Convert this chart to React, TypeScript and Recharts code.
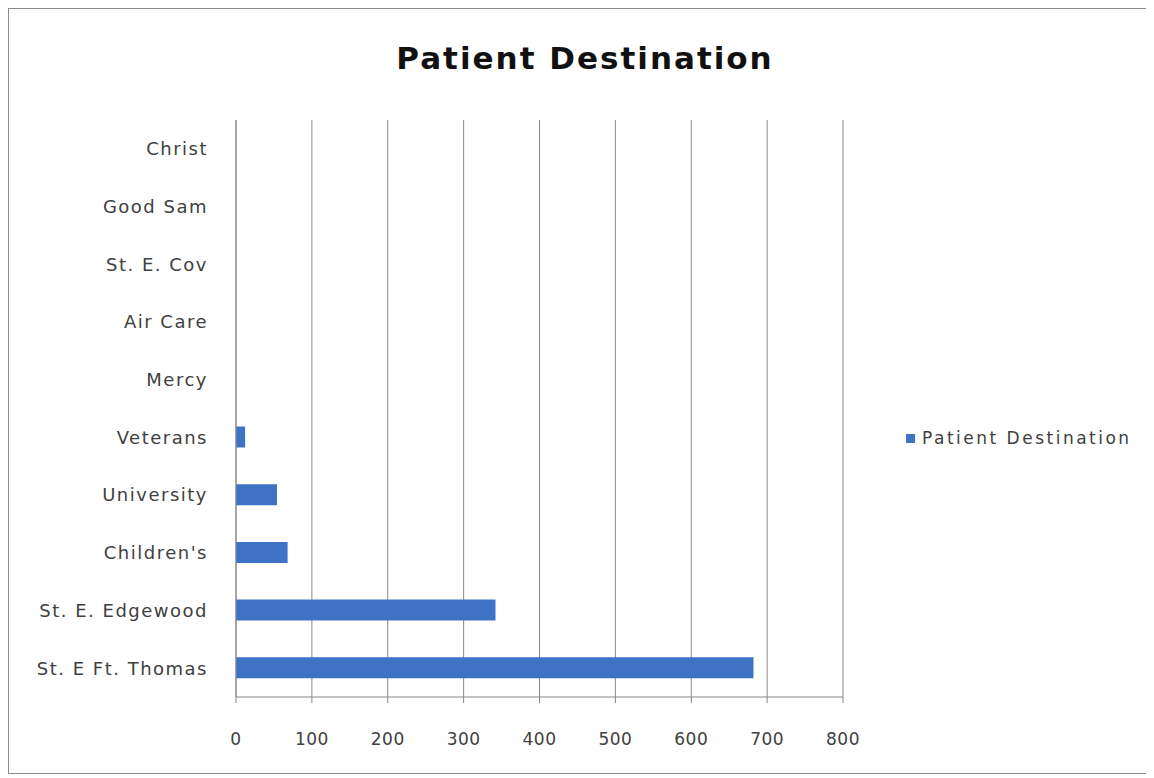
import { Bar, BarChart, CartesianGrid, Legend, XAxis, YAxis } from 'recharts'

const destinations = [
  'Christ',
  'Good Sam',
  'St. E. Cov',
  'Air Care',
  'Mercy',
  'Veterans',
  'University',
  "Children's",
  'St. E. Edgewood',
  'St. E Ft. Thomas',
]
const patientCounts = [0, 0, 0, 0, 0, 12, 54, 68, 342, 682]
const xTicks = [0, 100, 200, 300, 400, 500, 600, 700, 800]

const rows = destinations.map((name, i) => ({ name, value: patientCounts[i] }))

const FONT = '"DejaVu Sans", "Open Sans", sans-serif'
const BLUE = '#3d72c4'

function LegendItem() {
  return (
    <div
      style={{
        display: 'flex',
        alignItems: 'center',
        gap: 7,
        fontFamily: FONT,
        fontSize: 17,
        letterSpacing: 2.5,
        color: '#404040',
        whiteSpace: 'nowrap',
      }}
    >
      <span style={{ width: 9, height: 9, background: BLUE, display: 'inline-block' }} />
      <span>Patient Destination</span>
    </div>
  )
}

export default function App() {
  return (
    <div
      style={{
        position: 'relative',
        width: 1140,
        height: 764,
        border: '1px solid #8c8c8c',
        background: '#fff',
      }}
    >
      <div
        style={{
          position: 'absolute',
          left: 0,
          right: 0,
          top: 31,
          textAlign: 'center',
          fontFamily: FONT,
          fontWeight: 700,
          fontSize: 31,
          letterSpacing: 2,
          color: '#111',
          paddingLeft: 12,
        }}
      >
        Patient Destination
      </div>
      <BarChart
        width={1140}
        height={764}
        data={rows}
        layout="vertical"
        margin={{ top: 111, right: 306, bottom: 0, left: 0 }}
      >
        <CartesianGrid horizontal={false} stroke="#8a8a8a" strokeWidth={1} />
        <XAxis
          type="number"
          domain={[0, 800]}
          ticks={xTicks}
          height={56}
          tickSize={6}
          tickMargin={30}
          axisLine={{ stroke: '#868686' }}
          tickLine={{ stroke: '#868686' }}
          tick={{ fill: '#404040', fontSize: 17, fontFamily: FONT, letterSpacing: 0.5 }}
        />
        <YAxis
          type="category"
          dataKey="name"
          width={227}
          tickLine={false}
          tickMargin={22}
          axisLine={{ stroke: '#868686' }}
          tick={{ fill: '#404040', fontSize: 18, fontFamily: FONT, letterSpacing: 1.5 }}
          interval={0}
        />
        <Legend
          layout="vertical"
          wrapperStyle={{ position: 'absolute', left: 897, top: 419, width: 250 }}
          content={() => <LegendItem />}
        />
        <Bar dataKey="value" fill={BLUE} barSize={21} isAnimationActive={false} />
      </BarChart>
    </div>
  )
}
